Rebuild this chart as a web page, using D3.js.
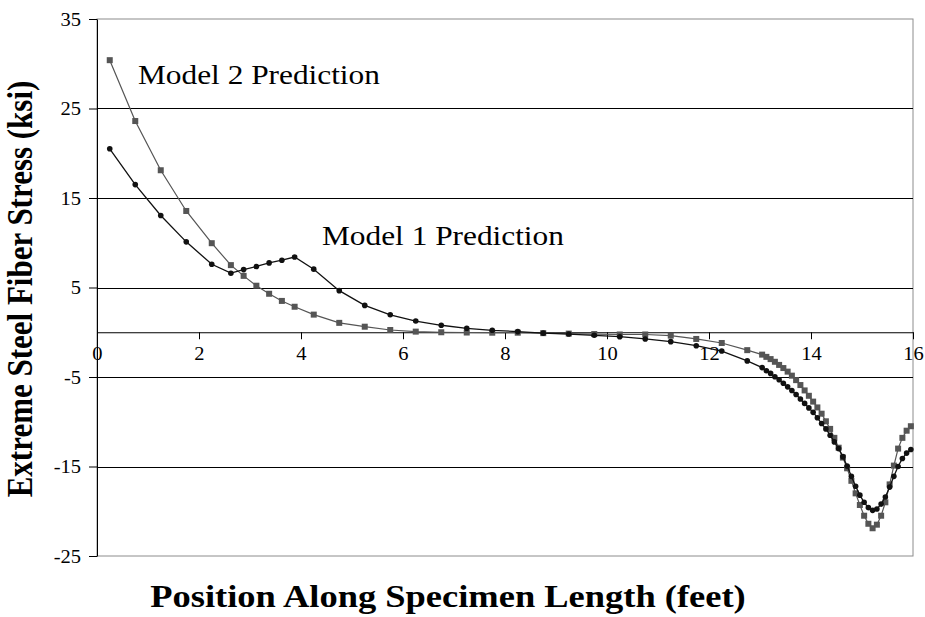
<!DOCTYPE html>
<html>
<head>
<meta charset="utf-8">
<script src="https://cdn.jsdelivr.net/npm/d3@7"></script>
<style>
  html, body { margin: 0; padding: 0; background: #fff; }
  svg { display: block; }
  text { font-family: "Liberation Serif", "Times New Roman", serif; fill: #000; }
</style>
</head>
<body>
<svg id="chart" width="925" height="617"></svg>
<script>
// Position along the specimen (feet) where stresses were evaluated
const positions = [
  0.25, 0.75, 1.25, 1.75, 2.25,
  2.625, 2.875, 3.125, 3.375, 3.625, 3.875,
  4.25, 4.75, 5.25, 5.75, 6.25, 6.75, 7.25, 7.75, 8.25, 8.75,
  9.25, 9.75, 10.25, 10.75, 11.25, 11.75, 12.25, 12.75,
  13.042, 13.125, 13.208, 13.292, 13.375, 13.458, 13.542, 13.625, 13.708,
  13.792, 13.875, 13.958, 14.042, 14.125, 14.208, 14.292, 14.375, 14.458,
  14.542, 14.625, 14.708, 14.792, 14.875, 14.958, 15.042, 15.125, 15.208,
  15.292, 15.375, 15.458, 15.542, 15.625, 15.708, 15.792, 15.875, 15.958
];

// Extreme steel fiber stress (ksi), Model 1
const model1Stress = [
  20.5, 16.5, 13.05, 10.1, 7.6,
  6.6, 7.0, 7.35, 7.75, 8.05, 8.4,
  7.05, 4.65, 3.0, 1.95, 1.25, 0.78, 0.44, 0.22, 0.07, -0.1,
  -0.2, -0.34, -0.5, -0.75, -1.05, -1.5, -2.1, -3.2,
  -3.95, -4.3, -4.6, -4.97, -5.3, -5.7, -6.1, -6.5, -6.95,
  -7.45, -7.95, -8.45, -8.95, -9.55, -10.2, -10.8, -11.5, -12.25,
  -13.0, -13.9, -14.95, -16.1, -17.2, -18.2, -19.0, -19.6, -19.9,
  -19.75, -19.2, -18.4, -17.3, -16.1, -15.0, -14.1, -13.5, -13.1
];

// Extreme steel fiber stress (ksi), Model 2
const model2Stress = [
  30.4, 23.6, 18.1, 13.55, 9.95,
  7.5, 6.3, 5.2, 4.3, 3.5, 2.85,
  1.97, 1.05, 0.62, 0.25, 0.07, 0.0, -0.03, -0.05, -0.05, -0.1,
  -0.15, -0.2, -0.25, -0.25, -0.38, -0.75, -1.2, -2.0,
  -2.5, -2.75, -3.0, -3.3, -3.65, -4.0, -4.4, -4.85, -5.35,
  -5.9, -6.5, -7.1, -7.75, -8.4, -9.1, -9.95, -10.8, -11.8,
  -12.9, -14.0, -15.2, -16.6, -18.0, -19.3, -20.5, -21.4, -21.9,
  -21.5, -20.5, -19.0, -17.0, -14.9, -13.0, -11.8, -11.0, -10.5
];

const xTicks = [0, 2, 4, 6, 8, 10, 12, 14, 16];
const yTicks = [-25, -15, -5, 5, 15, 25, 35];

const seriesLabels = ["Model 1 Prediction", "Model 2 Prediction"];
const xTitle = "Position Along Specimen Length (feet)";
const yTitle = "Extreme Steel Fiber Stress (ksi)";

const svg = d3.select("#chart");
const stretch = 1.14;
const plainNumber = d => String(d);   // hyphen-minus for negatives

const x = d3.scaleLinear().domain([0, 16]).range([97, 913]);
const y = d3.scaleLinear().domain([-25, 35]).range([556, 19]);

// Plot area frame
svg.append("rect")
  .attr("x", x(0)).attr("y", y(35))
  .attr("width", x(16) - x(0)).attr("height", y(-25) - y(35))
  .attr("fill", "none").attr("stroke", "#8c8c8c").attr("stroke-width", 1);

// Horizontal gridlines
svg.append("g")
  .selectAll("line")
  .data(yTicks.filter(v => v > -25 && v < 35))
  .join("line")
  .attr("x1", x(0)).attr("x2", x(16))
  .attr("y1", d => Math.round(y(d)) + 0.5).attr("y2", d => Math.round(y(d)) + 0.5)
  .attr("stroke", "#000").attr("stroke-width", 1);

// Y axis
const yAxis = svg.append("g")
  .attr("transform", `translate(${x(0)},0)`)
  .call(d3.axisLeft(y).tickValues(yTicks).tickFormat(plainNumber).tickSize(8).tickSizeOuter(0));
yAxis.attr("font-family", null);
yAxis.select(".domain").attr("stroke", "#000");
yAxis.selectAll(".tick line").attr("stroke", "#000");
yAxis.selectAll(".tick text")
  .attr("x", null).attr("dy", null)
  .attr("transform", `translate(-16,6) scale(${stretch},1)`)
  .attr("text-anchor", "end")
  .style("font-size", "18px");

// X axis along zero stress
const xAxis = svg.append("g")
  .attr("transform", `translate(0,${y(0)})`)
  .call(d3.axisBottom(x).tickValues(xTicks).tickFormat(plainNumber).tickSize(7).tickSizeOuter(0));
xAxis.attr("font-family", null);
xAxis.select(".domain").attr("stroke", "#000");
xAxis.selectAll(".tick line").attr("stroke", "#000");
xAxis.selectAll(".tick text")
  .attr("y", null).attr("dy", null)
  .attr("transform", `translate(0,28) scale(${stretch},1)`)
  .style("font-size", "18px");

const data1 = positions.map((p, i) => [p, model1Stress[i]]);
const data2 = positions.map((p, i) => [p, model2Stress[i]]);
const line = d3.line().x(d => x(d[0])).y(d => y(d[1]));

// Model 2: grey line with square markers
svg.append("path").datum(data2)
  .attr("d", line).attr("fill", "none")
  .attr("stroke", "#555").attr("stroke-width", 1.2);
svg.append("g").selectAll("rect").data(data2).join("rect")
  .attr("x", d => x(d[0]) - 3).attr("y", d => y(d[1]) - 3)
  .attr("width", 6).attr("height", 6)
  .attr("fill", "#555");

// Model 1: black line with circle markers
svg.append("path").datum(data1)
  .attr("d", line).attr("fill", "none")
  .attr("stroke", "#111").attr("stroke-width", 1.3);
svg.append("g").selectAll("circle").data(data1).join("circle")
  .attr("cx", d => x(d[0])).attr("cy", d => y(d[1]))
  .attr("r", 2.8).attr("fill", "#111");

// Series annotations
svg.append("text")
  .attr("transform", `translate(138,84) scale(${stretch},1)`)
  .style("font-size", "27.5px")
  .text(seriesLabels[1]);
svg.append("text")
  .attr("transform", `translate(322,245) scale(${stretch},1)`)
  .style("font-size", "27.5px")
  .text(seriesLabels[0]);

// Axis titles
svg.append("text")
  .attr("transform", `translate(448,607) scale(${stretch},1)`)
  .attr("text-anchor", "middle")
  .style("font-size", "32px").style("font-weight", "bold")
  .text(xTitle);
svg.append("text")
  .attr("transform", `translate(32,289) rotate(-90) scale(1,${stretch})`)
  .attr("text-anchor", "middle")
  .style("font-size", "31px").style("font-weight", "bold")
  .text(yTitle);
</script>
</body>
</html>
